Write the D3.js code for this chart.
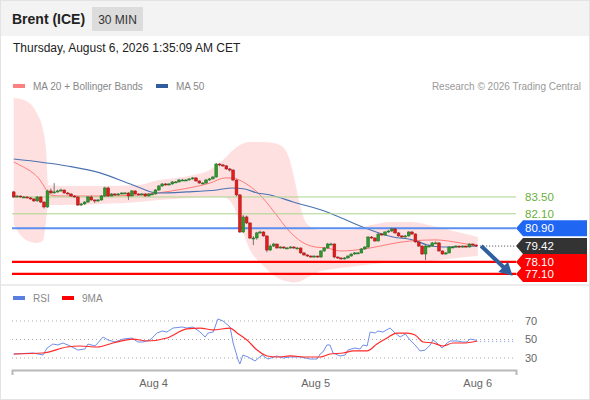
<!DOCTYPE html>
<html>
<head>
<meta charset="utf-8">
<script src="https://cdn.jsdelivr.net/npm/d3@7"></script>
<style>
  body { margin: 0; background: #fff; }
  svg text { font-family: "Liberation Sans", Arial, sans-serif; }
</style>
</head>
<body>
<div id="chart"></div>
<script>
// candles, 30 min bars (open = previous close)
var firstOpen = 83.92;
var closes = [83.50,83.58,83.50,83.50,83.42,83.33,83.17,83.50,83.08,82.67,
    84.00,83.83,83.92,84.00,84.08,83.83,83.75,83.58,83.50,82.83,
    82.92,83.08,83.50,83.25,83.17,83.25,83.58,84.25,83.58,83.75,
    83.67,83.75,83.83,83.83,83.58,84.00,83.75,83.67,83.75,83.58,
    83.75,83.75,84.08,84.41,84.58,84.50,84.58,84.75,84.75,84.91,
    84.91,84.91,85.00,85.08,84.83,84.66,84.66,84.91,85.00,85.16,
    86.24,86.16,86.08,85.83,85.74,84.91,83.67,80.59,81.84,81.34,
    80.09,80.09,80.51,80.59,80.26,79.09,79.42,79.59,79.26,79.34,
    79.26,79.26,79.34,79.26,79.26,78.85,78.68,78.59,78.51,78.59,
    78.51,79.01,79.26,79.59,79.59,78.51,78.43,78.35,78.43,78.59,
    78.76,78.85,78.85,79.18,79.34,80.17,80.09,79.84,80.42,80.34,
    80.59,80.67,80.84,80.51,80.26,80.17,80.26,80.59,80.42,79.76,
    79.42,78.76,79.42,79.42,79.68,79.68,79.01,78.76,78.85,79.34,
    79.34,79.42,79.34,79.42,79.34,79.59,79.51,79.42];
var highs = [84.00,83.67,83.62,83.58,83.55,83.50,83.42,83.58,83.55,83.12,
    84.10,84.20,84.65,84.10,84.20,84.12,83.92,83.80,83.65,83.55,
    83.00,83.15,83.58,83.62,83.30,83.33,83.65,84.35,84.35,83.83,
    83.80,83.83,83.90,83.92,83.90,84.08,84.05,83.80,83.83,83.80,
    83.80,83.83,84.15,84.50,84.66,84.66,84.66,84.83,84.83,85.00,
    85.00,84.98,85.06,85.16,85.16,84.88,84.75,85.00,85.08,85.25,
    86.33,86.30,86.25,86.15,85.90,85.80,84.95,83.75,82.00,81.95,
    81.40,80.25,80.60,80.70,80.65,80.30,79.55,79.68,79.62,79.42,
    79.40,79.35,79.42,79.40,79.35,79.30,78.90,78.72,78.65,78.65,
    78.62,79.08,79.34,79.68,79.70,79.65,78.55,78.48,78.50,78.65,
    78.82,78.92,78.92,79.25,79.42,80.25,80.25,80.15,80.50,80.50,
    80.66,80.76,80.95,80.92,80.58,80.32,80.35,80.66,80.66,80.48,
    79.82,79.48,79.50,79.55,79.76,79.80,79.75,79.06,78.92,79.42,
    79.42,79.48,79.45,79.48,79.45,79.65,79.63,79.55];
var lows = [83.42,83.45,83.45,83.42,83.38,83.28,83.10,83.10,83.00,82.55,
    82.60,83.78,83.80,83.85,83.95,83.78,83.70,83.50,83.45,82.75,
    82.75,82.85,83.00,83.20,83.00,83.10,83.20,83.50,83.50,83.55,
    83.60,83.62,83.70,83.75,83.25,83.55,83.70,83.62,83.62,83.52,
    83.55,83.68,83.70,84.00,84.35,84.45,84.45,84.52,84.68,84.70,
    84.85,84.85,84.86,84.95,84.78,84.60,84.58,84.60,84.85,84.95,
    85.10,86.05,86.00,85.75,85.60,84.80,83.55,80.50,80.50,81.25,
    80.00,79.50,79.95,80.45,80.20,78.90,79.00,79.35,79.20,79.20,
    79.18,79.18,79.20,79.18,79.15,78.78,78.62,78.52,78.45,78.45,
    78.45,78.45,78.95,79.20,79.50,78.40,78.35,78.28,78.30,78.38,
    78.55,78.70,78.78,78.80,79.10,79.25,80.02,79.78,79.80,80.28,
    80.28,80.52,80.60,80.45,80.20,80.10,80.12,80.20,80.35,79.70,
    79.35,78.68,78.26,79.35,79.38,79.60,78.95,78.70,78.70,78.80,
    79.28,79.30,79.28,79.30,79.28,79.30,79.45,79.36];

// indicators (bar index, value)
var ma20At = [0, 2.8, 5.7, 7.8, 9.3, 10.8, 13.7, 25.6, 37.4, 42.5, 50.2, 58.2, 62.6, 64.7, 68.5, 72.4, 77.4, 81.3, 85.4, 89.3, 92.8, 96.7, 105.6, 111.5, 117.4, 124.8, 132.3, 137.3];
var ma20 = [86.41, 86.00, 85.50, 84.91, 84.25, 83.67, 83.58, 83.58, 83.67, 83.83, 84.16, 84.66, 85.08, 85.08, 84.66, 83.83, 82.17, 80.76, 79.76, 79.34, 79.26, 79.01, 79.26, 79.59, 79.84, 79.93, 79.68, 79.42];
var ma50At = [0, 15.8, 25.6, 35.3, 42.5, 51.3, 60.2, 64.7, 68.5, 72.1, 76, 82.8, 92.8, 102.6, 112.4, 118.3, 122.5, 127.2, 137.3];
var ma50 = [86.66, 86.08, 85.50, 84.50, 83.83, 83.92, 84.08, 84.25, 84.16, 83.83, 83.67, 83.08, 82.25, 81.09, 80.17, 79.93, 79.51, 79.34, 79.42];
var bbAt = [0, 2, 5, 7, 8.7, 9.6, 10.2, 14, 26, 37, 43, 52, 58, 62, 65, 67, 70, 73.5, 77, 80, 81.5, 83, 84.5, 86, 88, 90.5, 94, 100, 106, 112, 118, 124, 129, 134, 137.5];
var bbUpper = [91.73,91.65,91.23,90.40,89.07,87.41,84.50,84.41,84.41,84.50,
    84.91,85.25,85.74,86.58,87.41,87.82,88.07,88.07,87.99,87.60,
    86.80,85.20,83.20,81.70,81.00,80.76,80.76,80.76,81.17,81.42,
    81.42,81.10,80.76,80.42,80.17];
var bbLower = [81.20,80.34,79.76,79.68,79.90,81.50,82.83,82.83,82.92,83.08,
    83.25,83.42,83.50,83.50,82.80,81.30,79.10,77.90,77.00,76.55,
    76.45,76.40,76.45,76.65,76.95,77.30,77.50,77.70,77.90,78.05,
    78.10,78.20,78.35,78.50,78.60];

var rsiAt = [0,5.7,8.7,9.9,11.6,13.1,14.6,16.7,19,21.1,22,24.1,26.5,27.9,30,32.4,35,36.8,38.3,40.4,
    42.5,44,45.4,47.2,49.9,51.3,53.1,55.2,56.7,57.6,59.1,60.5,62,64.1,65,66.5,67,67.9,69.4,71.5,
    73.6,75.3,78,79.8,81.9,84.8,87.8,89.9,90.8,91.6,92.8,93.7,94.6,96.7,98.2,99,101.1,102.6,103.5,104.7,
    105.6,107.1,107.9,109.4,111.5,113,114.5,116,117.4,118.9,120.4,121.9,123.4,124.2,125.4,126.9,128.4,129.3,131.4,132.9,
    134.3,135.2,136.7,137.3];
var rsi = [34.3,35.4,33.2,40.8,45.1,44.1,46.2,43.0,38.6,39.7,45.1,43.0,52.7,49.5,47.3,50.5,51.6,47.3,47.3,49.5,
    57.0,59.2,58.1,62.4,63.5,62.4,63.5,58.1,52.7,57.0,58.1,72.2,70.0,63.5,46.2,27.8,23.5,33.2,31.1,26.8,
    33.2,28.9,32.2,30.0,31.1,31.1,28.9,28.9,34.3,36.5,44.1,44.1,35.4,32.2,33.2,38.6,40.8,39.7,44.1,43.0,
    58.1,57.0,59.2,58.1,62.4,57.0,52.7,56.0,49.5,44.1,37.6,38.6,44.1,49.5,46.2,40.8,46.2,48.4,48.4,47.3,
    47.3,50.5,49.5,48.0];
var rsiMaAt = [0,8.7,15.8,19.6,24.7,29.4,35.3,39.5,45.4,51.3,55.2,59.1,64.1,66.2,69.1,72.1,75.1,78,81.9,86.9,
    90.8,93.7,97.6,100.6,104.7,107.6,110.6,113.5,116.5,118.9,121.3,124.2,127.2,130.1,133.1,137.3];
var rsiMa = [34.3,35.4,41.9,43.0,41.9,46.2,50.5,48.4,51.6,61.4,62.4,60.3,62.4,57.0,49.5,38.6,32.2,31.1,32.2,31.1,
    31.1,34.3,35.4,37.6,37.6,45.1,51.6,57.0,57.0,54.9,47.3,46.2,43.0,46.2,46.2,48.4];

// key levels
var levelValues = [83.50, 82.10, 80.90, 79.42, 78.10, 77.10];
var levelLabels = ["83.50", "82.10", "80.90", "79.42", "78.10", "77.10"];
var levelKinds = ["resistance", "resistance", "pivot", "last", "support", "support"];
var targetValue = 76.95;

var dayTickAt = [41.3, 89.3, 137.3];
var dayTickLabels = ["Aug 4", "Aug 5", "Aug 6"];
var rsiTicks = [70, 50, 30];

makePlot();

function makePlot() {
    // STEP 1: THE CANVAS
    var svgWidth = 590;
    var svgHeight = 400;
    var plot = { left: 12, right: 516, top: 95, bottom: 284 };

    var svg = d3.select("#chart")
        .append("svg")
        .attr("width", svgWidth)
        .attr("height", svgHeight);

    svg.append("rect")
        .attr("x", 0.5).attr("y", 0.5)
        .attr("width", svgWidth - 1).attr("height", svgHeight - 1)
        .attr("fill", "#fff")
        .attr("stroke", "#e3e3e3");

    // header
    svg.append("rect")
        .attr("x", 1).attr("y", 1)
        .attr("width", svgWidth - 2).attr("height", 35)
        .attr("fill", "#f3f3f3");
    svg.append("text")
        .attr("x", 12).attr("y", 24)
        .attr("font-size", 14).attr("font-weight", "bold").attr("fill", "#222")
        .text("Brent (ICE)");
    svg.append("rect")
        .attr("x", 92).attr("y", 7)
        .attr("width", 51).attr("height", 24)
        .attr("fill", "#dcdcdc");
    svg.append("text")
        .attr("x", 117.5).attr("y", 23.5)
        .attr("text-anchor", "middle")
        .attr("font-size", 12).attr("fill", "#333")
        .text("30 MIN");
    svg.append("text")
        .attr("x", 13).attr("y", 52)
        .attr("font-size", 12).attr("fill", "#222")
        .text("Thursday, August 6, 2026 1:35:09 AM CET");

    // legend
    var legend = svg.append("g").attr("font-size", 10).attr("fill", "#888");
    legend.append("rect").attr("x", 13).attr("y", 84).attr("width", 12).attr("height", 4).attr("fill", "#ff8080");
    legend.append("text").attr("x", 33).attr("y", 89.5).text("MA 20 + Bollinger Bands");
    legend.append("rect").attr("x", 156).attr("y", 84).attr("width", 12).attr("height", 4).attr("fill", "#2f5d9e");
    legend.append("text").attr("x", 176).attr("y", 89.5).text("MA 50");
    svg.append("text")
        .attr("x", 581).attr("y", 89.5)
        .attr("text-anchor", "end")
        .attr("font-size", 10).attr("fill", "#999")
        .text("Research \u00a9 2026 Trading Central");

    // STEP 2: SCALES
    var xScale = d3.scaleLinear()
        .domain([-0.5, 148.8])
        .range([plot.left, plot.right]);

    var yScale = d3.scaleLinear()
        .domain([76, 92])
        .range([287.2, 94.7]);

    var rsiScale = d3.scaleLinear()
        .domain([30, 70])
        .range([358, 321]);

    svg.append("clipPath")
        .attr("id", "plotClip")
        .append("rect")
        .attr("x", plot.left).attr("y", plot.top)
        .attr("width", plot.right - plot.left).attr("height", plot.bottom - plot.top);

    var chartGroup = svg.append("g").attr("clip-path", "url(#plotClip)");

    // STEP 3: BOLLINGER BANDS + MOVING AVERAGES
    var bands = bbAt.map((d, i) => ({ at: d, up: bbUpper[i], low: bbLower[i] }));
    chartGroup.append("path")
        .datum(bands)
        .attr("fill", "#ff0000")
        .attr("fill-opacity", 0.12)
        .attr("d", d3.area()
            .curve(d3.curveMonotoneX)
            .x(d => xScale(d.at))
            .y0(d => yScale(d.low))
            .y1(d => yScale(d.up)));

    var maLine = d3.line()
        .curve(d3.curveMonotoneX)
        .x(d => xScale(d[0]))
        .y(d => yScale(d[1]));

    chartGroup.append("path")
        .datum(ma20At.map((d, i) => [d, ma20[i]]))
        .attr("fill", "none")
        .attr("stroke", "#ff7a7a")
        .attr("stroke-width", 1)
        .attr("d", maLine);

    chartGroup.append("path")
        .datum(ma50At.map((d, i) => [d, ma50[i]]))
        .attr("fill", "none")
        .attr("stroke", "#4a72b0")
        .attr("stroke-width", 1.1)
        .attr("d", maLine);

    // STEP 4: LEVEL LINES
    var levelColor = { resistance: "#a9d48c", pivot: "#5b8ff0", support: "#ff0000" };
    var levelWidth = { resistance: 1, pivot: 2, support: 2.2 };
    var levels = levelValues.map((v, i) => ({ value: v, label: levelLabels[i], kind: levelKinds[i] }));

    svg.append("g")
        .selectAll("line")
        .data(levels.filter(d => d.kind != "last"))
        .enter()
        .append("line")
        .attr("x1", plot.left).attr("x2", plot.right)
        .attr("y1", d => yScale(d.value)).attr("y2", d => yScale(d.value))
        .attr("stroke", d => levelColor[d.kind])
        .attr("stroke-width", d => levelWidth[d.kind]);

    // STEP 5: CANDLES
    var candles = closes.map(function(c, i) {
        return { i: i, open: i == 0 ? firstOpen : closes[i - 1], close: c, high: highs[i], low: lows[i] };
    });

    var candleGroup = svg.append("g");
    candleGroup.selectAll("line")
        .data(candles)
        .enter()
        .append("line")
        .attr("x1", d => xScale(d.i)).attr("x2", d => xScale(d.i))
        .attr("y1", d => yScale(d.high)).attr("y2", d => yScale(d.low))
        .attr("stroke", "#555")
        .attr("stroke-width", 0.8);

    candleGroup.selectAll("rect")
        .data(candles)
        .enter()
        .append("rect")
        .attr("x", d => xScale(d.i) - 1.4)
        .attr("width", 2.8)
        .attr("y", d => yScale(Math.max(d.open, d.close)))
        .attr("height", d => Math.max(1, Math.abs(yScale(d.open) - yScale(d.close))))
        .attr("fill", d => d.close >= d.open ? "#2e9a2e" : "#e21c1c")
        .attr("stroke", d => d.close >= d.open ? "#1f6e22" : "#a51515")
        .attr("stroke-width", 0.5);

    // last price dotted line
    var lastIdx = closes.length - 1;
    svg.append("line")
        .attr("x1", xScale(lastIdx) + 4).attr("x2", plot.right)
        .attr("y1", yScale(closes[lastIdx])).attr("y2", yScale(closes[lastIdx]))
        .attr("stroke", "#444")
        .attr("stroke-dasharray", "1,2");

    // STEP 6: TARGET ARROW
    var ax0 = xScale(lastIdx + 1.5), ay0 = yScale(closes[lastIdx]);
    var ax1 = xScale(147.8), ay1 = yScale(targetValue);
    var ang = Math.atan2(ay1 - ay0, ax1 - ax0);
    var headLen = 13, headHalf = 7;
    var bx = ax1 - headLen * Math.cos(ang), by = ay1 - headLen * Math.sin(ang);
    svg.append("line")
        .attr("x1", ax0).attr("y1", ay0)
        .attr("x2", bx + 2 * Math.cos(ang)).attr("y2", by + 2 * Math.sin(ang))
        .attr("stroke", "#2f5f9c")
        .attr("stroke-width", 4);
    svg.append("path")
        .attr("d", "M" + ax1 + "," + ay1 +
            "L" + (bx + headHalf * Math.sin(ang)) + "," + (by - headHalf * Math.cos(ang)) +
            "L" + (bx - headHalf * Math.sin(ang)) + "," + (by + headHalf * Math.cos(ang)) + "Z")
        .attr("fill", "#2f5f9c");

    // STEP 7: LEVEL LABELS
    var boxColor = { pivot: "#1f66f2", last: "#333333", support: "#ff0000" };
    var labelGroup = svg.append("g");
    levels.forEach(function(d) {
        var yc = yScale(d.value);
        if (d.kind == "resistance") {
            labelGroup.append("text")
                .attr("x", 525).attr("y", yc).attr("dy", "0.35em")
                .attr("font-size", 11.5).attr("fill", "#6aaf3a")
                .text(d.label);
            return;
        }
        labelGroup.append("path")
            .attr("d", "M" + plot.right + "," + yc + "L" + (plot.right + 7) + "," + (yc - 8) +
                "H587V" + (yc + 8) + "H" + (plot.right + 7) + "Z")
            .attr("fill", boxColor[d.kind]);
    });
    levels.forEach(function(d) {
        if (d.kind == "resistance") return;
        labelGroup.append("text")
            .attr("x", 525).attr("y", yScale(d.value)).attr("dy", "0.36em")
            .attr("font-size", 11.5).attr("fill", "#fff")
            .text(d.label);
    });

    // separator between panels
    svg.append("rect")
        .attr("x", 1).attr("y", 284)
        .attr("width", svgWidth - 2).attr("height", 2)
        .attr("fill", "#ececec");

    // STEP 8: RSI PANEL
    var rsiLegend = svg.append("g").attr("font-size", 10).attr("fill", "#888");
    rsiLegend.append("rect").attr("x", 13).attr("y", 296).attr("width", 12).attr("height", 4).attr("fill", "#5b7fe0");
    rsiLegend.append("text").attr("x", 33).attr("y", 301.5).text("RSI");
    rsiLegend.append("rect").attr("x", 62).attr("y", 296).attr("width", 12).attr("height", 4).attr("fill", "#ff0000");
    rsiLegend.append("text").attr("x", 82).attr("y", 301.5).text("9MA");

    svg.append("g")
        .selectAll("line")
        .data(rsiTicks)
        .enter()
        .append("line")
        .attr("x1", plot.left).attr("x2", plot.right)
        .attr("y1", d => rsiScale(d)).attr("y2", d => rsiScale(d))
        .attr("stroke", "#aaa")
        .attr("stroke-dasharray", "1,3");

    svg.append("g")
        .selectAll("text")
        .data(rsiTicks)
        .enter()
        .append("text")
        .attr("x", 525).attr("y", d => rsiScale(d)).attr("dy", "0.35em")
        .attr("font-size", 11).attr("fill", "#666")
        .text(d => d);

    var rsiLine = d3.line()
        .x(d => xScale(d[0]))
        .y(d => rsiScale(d[1]));

    svg.append("path")
        .datum(rsiAt.map((d, i) => [d, rsi[i]]))
        .attr("fill", "none")
        .attr("stroke", "#6f8ee8")
        .attr("stroke-width", 1)
        .attr("d", rsiLine);

    svg.append("line")
        .attr("x1", xScale(rsiAt[rsiAt.length - 1]) + 3).attr("x2", plot.right)
        .attr("y1", rsiScale(rsi[rsi.length - 1])).attr("y2", rsiScale(rsi[rsi.length - 1]))
        .attr("stroke", "#6f8ee8")
        .attr("stroke-dasharray", "1,3");

    svg.append("path")
        .datum(rsiMaAt.map((d, i) => [d, rsiMa[i]]))
        .attr("fill", "none")
        .attr("stroke", "#ff2a2a")
        .attr("stroke-width", 1.2)
        .attr("d", rsiLine.curve(d3.curveMonotoneX));

    // STEP 9: TIME AXIS
    var bottomAxis = d3.axisBottom(xScale)
        .tickValues(dayTickAt)
        .tickFormat((d, i) => dayTickLabels[i])
        .tickSizeInner(0)
        .tickSizeOuter(5)
        .tickPadding(9);

    var xAxis = svg.append("g")
        .attr("transform", "translate(0, 370)")
        .call(bottomAxis);
    xAxis.select(".domain").attr("stroke", "#b8b8b8").attr("stroke-width", 2);
    xAxis.selectAll("text")
        .attr("font-size", 11)
        .attr("fill", "#666")
        .style("font-family", "'Liberation Sans', Arial, sans-serif");
}
</script>
</body>
</html>
